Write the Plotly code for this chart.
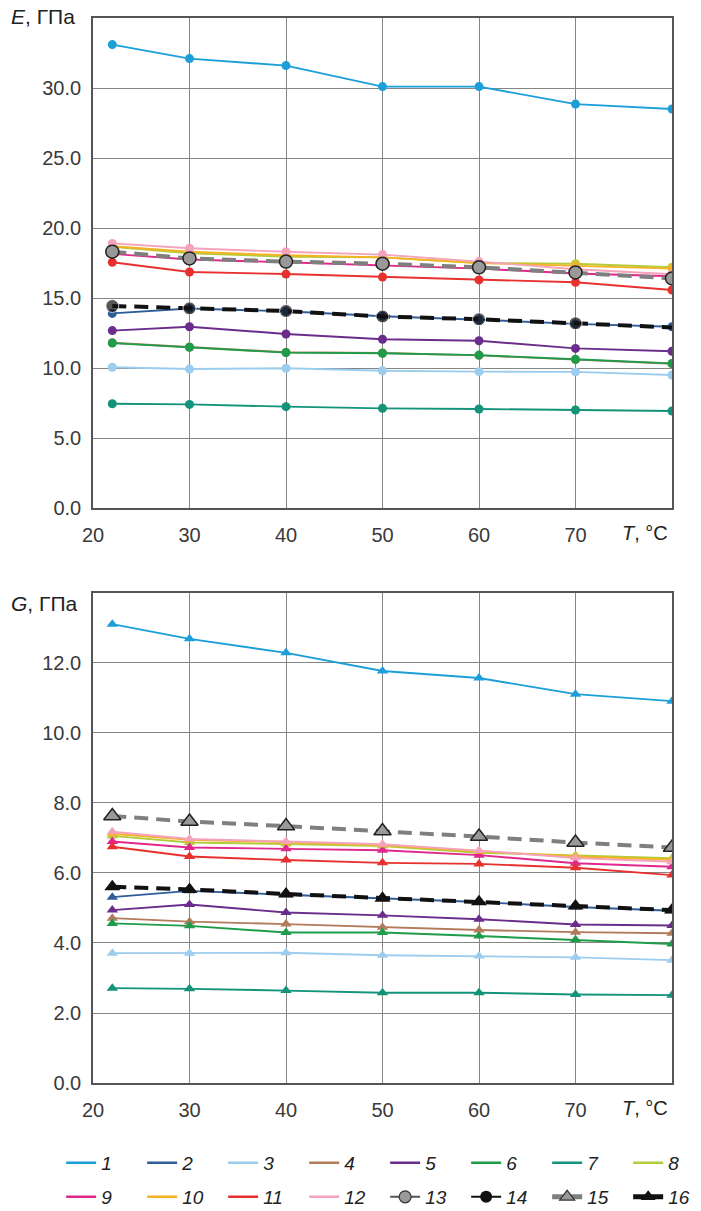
import plotly.graph_objects as go

# Temperature, °C
T = [22, 30, 40, 50, 60, 70, 80]

# Elastic modulus E, GPa (series 1..14)
E1 = [33.1, 32.1, 31.6, 30.1, 30.1, 28.85, 28.5]
E2 = [13.9, 14.25, 14.05, 13.7, 13.45, 13.15, 12.95]
E3 = [10.05, 9.93, 9.98, 9.8, 9.74, 9.72, 9.5]
E4 = [11.8, 11.5, 11.12, 11.07, 10.9, 10.6, 10.3]
E5 = [12.67, 12.95, 12.43, 12.05, 11.95, 11.4, 11.2]
E6 = [11.78, 11.48, 11.1, 11.05, 10.92, 10.62, 10.33]
E7 = [7.45, 7.4, 7.24, 7.12, 7.07, 7.0, 6.93]
E8 = [18.65, 18.2, 17.95, 17.9, 17.5, 17.45, 17.2]
E9 = [18.15, 17.75, 17.55, 17.35, 17.1, 16.75, 16.55]
E10 = [18.7, 18.3, 18.05, 17.9, 17.5, 17.3, 17.1]
E11 = [17.55, 16.86, 16.71, 16.5, 16.29, 16.12, 15.57]
E12 = [18.9, 18.55, 18.3, 18.1, 17.6, 17.05, 16.7]
E13 = [18.31, 17.83, 17.6, 17.45, 17.19, 16.83, 16.4]
E14 = [14.43, 14.26, 14.07, 13.68, 13.48, 13.19, 12.9]

# Shear modulus G, GPa (series 1..12, 15, 16)
G1 = [13.11, 12.69, 12.29, 11.77, 11.57, 11.11, 10.91]
G2 = [5.31, 5.49, 5.38, 5.27, 5.17, 5.03, 4.92]
G3 = [3.71, 3.71, 3.72, 3.65, 3.63, 3.59, 3.51]
G4 = [4.71, 4.61, 4.54, 4.45, 4.37, 4.31, 4.28]
G5 = [4.94, 5.1, 4.87, 4.79, 4.68, 4.53, 4.5]
G6 = [4.56, 4.49, 4.3, 4.3, 4.2, 4.09, 3.97]
G7 = [2.71, 2.69, 2.64, 2.58, 2.58, 2.53, 2.51]
G8 = [7.06, 6.87, 6.83, 6.77, 6.58, 6.5, 6.42]
G9 = [6.9, 6.73, 6.69, 6.65, 6.51, 6.28, 6.18]
G10 = [7.12, 6.95, 6.88, 6.8, 6.62, 6.47, 6.38]
G11 = [6.75, 6.47, 6.37, 6.29, 6.26, 6.15, 5.94]
G12 = [7.18, 6.97, 6.9, 6.82, 6.64, 6.43, 6.32]
G15 = [7.63, 7.47, 7.34, 7.2, 7.04, 6.87, 6.73]
G16 = [5.61, 5.53, 5.4, 5.28, 5.18, 5.06, 4.94]

E_TICKS = [0, 5, 10, 15, 20, 25, 30]
G_TICKS = [0, 2, 4, 6, 8, 10, 12]
T_TICKS = [20, 30, 40, 50, 60, 70]

COLORS = {
    1: "#1c9fd9", 2: "#2f5d9a", 3: "#9ccdee", 4: "#b27c5c",
    5: "#6b2d8c", 6: "#1f9c4a", 7: "#12937a", 8: "#b3cc3c",
    9: "#e0288c", 10: "#f3b324", 11: "#e8312f", 12: "#f4a3bb",
}
GRAY = "#7f7f7f"
FONT = "Liberation Sans, Arial, sans-serif"

E_SERIES = {1: E1, 2: E2, 3: E3, 4: E4, 5: E5, 6: E6, 7: E7, 8: E8,
            9: E9, 10: E10, 11: E11, 12: E12}
G_SERIES = {1: G1, 2: G2, 3: G3, 4: G4, 5: G5, 6: G6, 7: G7, 8: G8,
            9: G9, 10: G10, 11: G11, 12: G12}

fig = go.Figure()

# upper panel: E(T), circles
for k, ys in E_SERIES.items():
    fig.add_trace(go.Scatter(
        x=T, y=ys, mode="lines+markers", showlegend=False,
        line=dict(color=COLORS[k], width=1.9),
        marker=dict(symbol="circle", size=9, color=COLORS[k]),
        xaxis="x", yaxis="y"))
fig.add_trace(go.Scatter(
    x=T, y=E13, mode="lines+markers", showlegend=False,
    line=dict(color=GRAY, width=4, dash="14px,8px"),
    marker=dict(symbol="circle", size=13, color="#999999",
                line=dict(color="#222222", width=1.5)),
    xaxis="x", yaxis="y"))
fig.add_trace(go.Scatter(
    x=T, y=E14, mode="lines+markers", showlegend=False,
    line=dict(color="#111111", width=4, dash="14px,8px"),
    marker=dict(symbol="circle", size=[13, 13, 13, 13, 13, 13, 0],
                color="#111111"),
    xaxis="x", yaxis="y"))

# lower panel: G(T), triangles
for k, ys in G_SERIES.items():
    fig.add_trace(go.Scatter(
        x=T, y=ys, mode="lines+markers", showlegend=False,
        line=dict(color=COLORS[k], width=1.9),
        marker=dict(symbol="triangle-up", size=10, color=COLORS[k]),
        xaxis="x2", yaxis="y2"))
fig.add_trace(go.Scatter(
    x=T, y=G15, mode="lines+markers", showlegend=False,
    line=dict(color=GRAY, width=4, dash="14px,8px"),
    marker=dict(symbol="triangle-up", size=15, color="#999999",
                line=dict(color="#222222", width=1.5)),
    xaxis="x2", yaxis="y2"))
fig.add_trace(go.Scatter(
    x=T, y=G16, mode="lines+markers", showlegend=False,
    line=dict(color="#111111", width=4, dash="14px,8px"),
    marker=dict(symbol="triangle-up", size=14, color="#111111"),
    xaxis="x2", yaxis="y2"))

# legend entries (two rows of eight)
for k in range(1, 13):
    fig.add_trace(go.Scatter(
        x=[None], y=[None], mode="lines", name=str(k),
        line=dict(color=COLORS[k], width=2.5),
        legend="legend" if k <= 8 else "legend2",
        xaxis="x2", yaxis="y2"))
fig.add_trace(go.Scatter(
    x=[None], y=[None], mode="lines+markers", name="13",
    line=dict(color="#555555", width=2),
    marker=dict(symbol="circle", size=12, color="#999999",
                line=dict(color="#333333", width=1.2)),
    legend="legend2", xaxis="x2", yaxis="y2"))
fig.add_trace(go.Scatter(
    x=[None], y=[None], mode="lines+markers", name="14",
    line=dict(color="#111111", width=2),
    marker=dict(symbol="circle", size=12, color="#111111"),
    legend="legend2", xaxis="x2", yaxis="y2"))
fig.add_trace(go.Scatter(
    x=[None], y=[None], mode="lines+markers", name="15",
    line=dict(color=GRAY, width=5),
    marker=dict(symbol="triangle-up", size=13, color="#999999",
                line=dict(color="#333333", width=1.2)),
    legend="legend2", xaxis="x2", yaxis="y2"))
fig.add_trace(go.Scatter(
    x=[None], y=[None], mode="lines+markers", name="16",
    line=dict(color="#111111", width=5),
    marker=dict(symbol="triangle-up", size=13, color="#111111"),
    legend="legend2", xaxis="x2", yaxis="y2"))

TICKFONT = dict(family=FONT, size=20, color="#3a3a3a")
axis_common = dict(
    showgrid=True, gridcolor="#858585", gridwidth=1,
    showline=True, linecolor="#555555", linewidth=1.6, mirror=True,
    ticks="", tickfont=TICKFONT, zeroline=False, fixedrange=True)

LEGEND_FONT = dict(family=FONT, size=19, style="italic", color="#222222")

fig.update_layout(
    width=701, height=1211,
    margin=dict(l=93, r=29, t=18, b=128, autoexpand=False),
    paper_bgcolor="white", plot_bgcolor="white",
    font=dict(family=FONT, color="#3a3a3a"),
    xaxis=dict(domain=[0, 1], range=[20, 80], tickvals=T_TICKS,
               anchor="y", ticklabelstandoff=8, **axis_common),
    yaxis=dict(domain=[0.5399, 1], range=[0, 35], tickvals=E_TICKS,
               tickformat=".1f", anchor="x", ticklabelstandoff=6,
               **axis_common),
    xaxis2=dict(domain=[0, 1], range=[20, 80], tickvals=T_TICKS,
                anchor="y2", ticklabelstandoff=8, **axis_common),
    yaxis2=dict(domain=[0, 0.4601], range=[0, 14], tickvals=G_TICKS,
                tickformat=".1f", anchor="x2", ticklabelstandoff=6,
                **axis_common),
    legend=dict(orientation="h", x=-0.055, xanchor="left",
                y=-0.0751, yanchor="middle",
                entrywidth=36, entrywidthmode="pixels",
                font=LEGEND_FONT, bgcolor="rgba(0,0,0,0)"),
    legend2=dict(orientation="h", x=-0.055, xanchor="left",
                 y=-0.107, yanchor="middle",
                 entrywidth=36, entrywidthmode="pixels",
                 font=LEGEND_FONT, bgcolor="rgba(0,0,0,0)"),
    annotations=[
        dict(text="<i>E</i>, ГПа", xref="paper", yref="paper",
             x=-0.145, y=1.001, xanchor="left", yanchor="middle",
             showarrow=False, font=dict(family=FONT, size=21, color="#222222")),
        dict(text="<i>G</i>, ГПа", xref="paper", yref="paper",
             x=-0.145, y=0.4507, xanchor="left", yanchor="middle",
             showarrow=False, font=dict(family=FONT, size=21, color="#222222")),
        dict(text="<i>T</i>, °C", xref="paper", yref="paper",
             x=0.997, y=0.5164, xanchor="right", yanchor="middle",
             showarrow=False, font=dict(family=FONT, size=20, color="#222222"),
             bgcolor="white"),
        dict(text="<i>T</i>, °C", xref="paper", yref="paper",
             x=0.997, y=-0.0235, xanchor="right", yanchor="middle",
             showarrow=False, font=dict(family=FONT, size=20, color="#222222"),
             bgcolor="white"),
    ],
)

fig.write_html("out.html")
